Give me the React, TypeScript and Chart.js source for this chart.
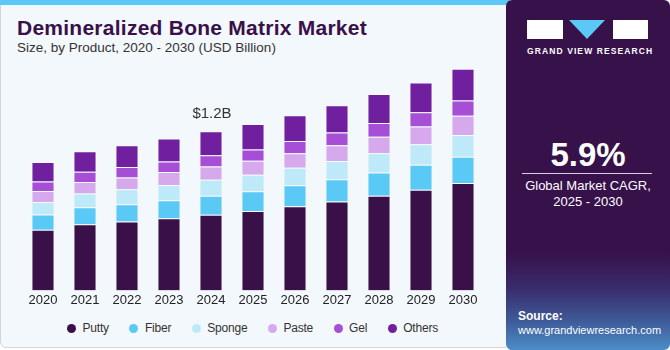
import React, { useEffect, useRef } from "react";
import { Chart, registerables } from "chart.js";

Chart.register(...registerables);

const years = ["2020", "2021", "2022", "2023", "2024", "2025", "2026", "2027", "2028", "2029", "2030"];
const putty = [0.458, 0.5, 0.52, 0.545, 0.572, 0.6, 0.635, 0.672, 0.715, 0.76, 0.81];
const fiber = [0.115, 0.128, 0.13, 0.135, 0.143, 0.148, 0.158, 0.168, 0.175, 0.188, 0.2];
const sponge = [0.095, 0.103, 0.113, 0.116, 0.12, 0.125, 0.133, 0.137, 0.146, 0.155, 0.163];
const paste = [0.083, 0.088, 0.09, 0.098, 0.1, 0.105, 0.11, 0.118, 0.125, 0.135, 0.145];
const gel = [0.072, 0.077, 0.078, 0.08, 0.086, 0.085, 0.092, 0.098, 0.103, 0.107, 0.116];
const others = [0.146, 0.155, 0.165, 0.173, 0.18, 0.193, 0.195, 0.205, 0.218, 0.225, 0.24];
const seriesNames = ["Putty", "Fiber", "Sponge", "Paste", "Gel", "Others"];
const seriesColors = ["#3a1049", "#5bc9f5", "#bde9f9", "#d6a9ec", "#a64fd6", "#70209e"];
const labelYear = "2024";
const labelText = "$1.2B";

const FONT = "'Liberation Sans', Arial, sans-serif";

const totalLabelPlugin = {
  id: "totalLabel",
  afterDatasetsDraw(chart: any) {
    const idx = years.indexOf(labelYear);
    const all = [putty, fiber, sponge, paste, gel, others];
    const total = all.reduce((s, a) => s + a[idx], 0);
    const x = chart.scales.x.getPixelForValue(idx);
    const y = chart.scales.y.getPixelForValue(total);
    const ctx = chart.ctx;
    ctx.save();
    ctx.font = `15px ${FONT}`;
    ctx.fillStyle = "#333333";
    ctx.textAlign = "center";
    ctx.textBaseline = "bottom";
    ctx.fillText(labelText, x + 1, y - 10);
    ctx.restore();
  },
};

export default function App() {
  const ref = useRef<HTMLCanvasElement | null>(null);
  useEffect(() => {
    document.body.style.margin = "0";
    if (!ref.current) return;
    const data = [putty, fiber, sponge, paste, gel, others];
    const chart = new Chart(ref.current, {
      type: "bar",
      data: {
        labels: years,
        datasets: data.map((d, i) => ({
          label: seriesNames[i],
          data: d,
          backgroundColor: seriesColors[i],
          borderColor: "rgba(255,255,255,0.3)",
          borderWidth: 1,
          barPercentage: 0.55,
          categoryPercentage: 1,
        })),
      },
      options: {
        animation: false,
        responsive: false,
        maintainAspectRatio: false,
        layout: { padding: { left: 22, right: 16, top: 12, bottom: 0 } },
        scales: {
          x: {
            stacked: true,
            grid: { display: false, drawTicks: false },
            border: { display: false },
            ticks: { color: "#222222", font: { family: FONT, size: 13 }, padding: 2 },
          },
          y: {
            stacked: true,
            display: false,
            min: 0,
            max: 1.8,
          },
        },
        plugins: {
          legend: { display: false },
          tooltip: { enabled: false },
        },
      },
      plugins: [totalLabelPlugin],
    });
    return () => chart.destroy();
  }, []);

  return (
    <div style={{ position: "fixed", left: 0, top: 0, width: 670, height: 350, background: "#ffffff", overflow: "hidden", fontFamily: FONT }}>
      <div style={{ position: "absolute", left: 0, top: 0, width: 510, height: 348, background: "#f3f8fc", border: "1px solid #cfd6dc", borderRadius: 6, boxSizing: "border-box" }} />
      <div style={{ position: "absolute", left: 0, top: 0, width: 510, height: 5, background: "#5bc9f5" }} />
      <div style={{ position: "absolute", left: 17, top: 16, fontSize: 21, fontWeight: 900, color: "#3a1049", whiteSpace: "nowrap", letterSpacing: 0.25 }}>
        Demineralized Bone Matrix Market
      </div>
      <div style={{ position: "absolute", left: 17, top: 40, fontSize: 13.5, color: "#333333", whiteSpace: "nowrap" }}>
        Size, by Product, 2020 - 2030 (USD Billion)
      </div>
      <canvas ref={ref} width={500} height={270} style={{ position: "absolute", left: 0, top: 40, width: 500, height: 270 }} />
      <div style={{ position: "absolute", left: 0, top: 319, width: 505, height: 18, display: "flex", justifyContent: "center", alignItems: "center" }}>
        {seriesNames.map((n, i) => (
          <div key={n} style={{ display: "flex", alignItems: "center", marginRight: i < seriesNames.length - 1 ? 20.5 : 0 }}>
            <span style={{ display: "inline-block", width: 9, height: 9, borderRadius: "50%", background: seriesColors[i], marginRight: 6.5 }} />
            <span style={{ fontSize: 12, letterSpacing: -0.2, color: "#333333", lineHeight: "18px" }}>{n}</span>
          </div>
        ))}
      </div>
      <div style={{ position: "absolute", left: 506, top: 0, width: 164, height: 350, borderRadius: 6, background: "linear-gradient(180deg, #37114a 0%, #37114a 72%, #3a2a6a 82%, #3f5c9a 92%, #4b8ec8 100%)", overflow: "hidden" }}>
        <div style={{ position: "absolute", left: 21, top: 20, width: 36, height: 19, background: "#ffffff" }} />
        <div style={{ position: "absolute", left: 63, top: 20, width: 0, height: 0, borderLeft: "18px solid transparent", borderRight: "18px solid transparent", borderTop: "19px solid #5bc9f5" }} />
        <div style={{ position: "absolute", left: 107, top: 20, width: 35, height: 19, background: "#ffffff" }} />
        <div style={{ position: "absolute", left: 21, top: 46, width: 121, textAlign: "center", fontSize: 8.5, fontWeight: 700, color: "#ffffff", letterSpacing: 1.1, whiteSpace: "nowrap" }}>
          GRAND VIEW RESEARCH
        </div>
        <div style={{ position: "absolute", left: 0, width: 164, top: 136, textAlign: "center", fontSize: 33, fontWeight: 700, color: "#ffffff" }}>5.9%</div>
        <div style={{ position: "absolute", left: 16, top: 173, width: 130, height: 1, background: "#d8cce0" }} />
        <div style={{ position: "absolute", left: 0, width: 164, top: 178, textAlign: "center", fontSize: 13, color: "#ffffff", lineHeight: "16px" }}>
          Global Market CAGR,
          <br />
          2025 - 2030
        </div>
        <div style={{ position: "absolute", left: 12, top: 309, fontSize: 12, fontWeight: 700, color: "#ffffff" }}>Source:</div>
        <div style={{ position: "absolute", left: 12, top: 324, fontSize: 11, color: "#ffffff", whiteSpace: "nowrap" }}>www.grandviewresearch.com</div>
      </div>
    </div>
  );
}
